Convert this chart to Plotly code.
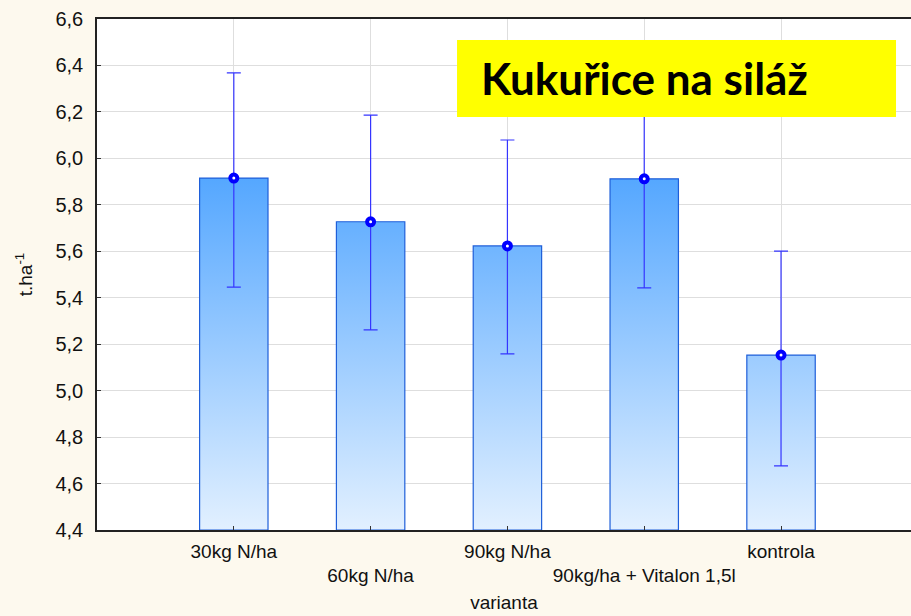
import plotly.graph_objects as go

# Yield of silage maize by fertilisation variant (mean with interval)
categories = ["30kg N/ha", "60kg N/ha", "90kg N/ha", "90kg/ha + Vitalon 1,5l", "kontrola"]
means = [5.915, 5.727, 5.623, 5.912, 5.153]
upper = [6.368, 6.186, 6.079, 6.370, 5.601]
lower = [5.446, 5.262, 5.158, 5.442, 4.676]
y_ticks = [4.4, 4.6, 4.8, 5.0, 5.2, 5.4, 5.6, 5.8, 6.0, 6.2, 6.4, 6.6]

BASE = 4.4
HALF_W = 0.25
positions = list(range(1, len(categories) + 1))

# staggered category labels: every second one on a lower line
tick_text = [c if i % 2 == 0 else "<br>" + c for i, c in enumerate(categories)]

# bar outlines as closed polygons so they can carry a vertical gradient
bx, by = [], []
for p, v in zip(positions, means):
    bx += [p - HALF_W, p - HALF_W, p + HALF_W, p + HALF_W, p - HALF_W, None]
    by += [BASE, v, v, BASE, BASE, None]

fig = go.Figure()
fig.add_trace(go.Scatter(
    x=bx, y=by, mode="lines", fill="toself",
    line=dict(color="#1f5fd9", width=1.2),
    fillgradient=dict(type="vertical",
                      colorscale=[[0, "#e2f0ff"], [1, "#4da3ff"]],
                      start=BASE, stop=6.0),
    hoverinfo="skip", showlegend=False,
))

fig.add_trace(go.Scatter(
    x=positions, y=means, mode="markers",
    marker=dict(symbol="circle", size=7, color="white",
                line=dict(color="#0000ff", width=4)),
    error_y=dict(type="data", symmetric=False,
                 array=[u - m for u, m in zip(upper, means)],
                 arrayminus=[m - l for m, l in zip(means, lower)],
                 color="#3535ff", thickness=1.2, width=7),
    showlegend=False,
))

font = dict(family="Liberation Sans, Arial, sans-serif", color="#111111")

fig.update_layout(
    width=911, height=616,
    margin=dict(l=97, r=0, t=19, b=86),
    paper_bgcolor="#fdf9ee",
    plot_bgcolor="white",
    font=font,
    xaxis=dict(
        range=[0, 5.95],
        tickvals=positions, ticktext=tick_text, tickangle=0, automargin=False,
        tickfont=dict(size=19), ticks="inside", ticklen=4, tickcolor="#333",
        ticklabelstandoff=3,
        showgrid=True, gridcolor="#dedede", gridwidth=1,
        showline=True, linecolor="#222", linewidth=1.5, mirror=True,
        zeroline=False,
        title=dict(text="varianta", font=dict(size=19), standoff=10),
    ),
    yaxis=dict(
        range=[4.4, 6.6], automargin=False,
        tickvals=y_ticks,
        ticktext=[f"{t:.1f}".replace(".", ",") for t in y_ticks],
        tickfont=dict(size=20), ticks="inside", ticklen=4, tickcolor="#333",
        ticklabelstandoff=8,
        showgrid=True, gridcolor="#dedede", gridwidth=1,
        showline=True, linecolor="#222", linewidth=1.5,
        zeroline=False,
        title=dict(text="t.ha<sup>-1</sup>", font=dict(size=19), standoff=18),
    ),
    shapes=[dict(type="rect", xref="paper", yref="paper",
                 x0=0.4423, x1=0.9816, y0=0.8082, y1=0.9589,
                 fillcolor="#ffff00", line=dict(width=0), layer="above")],
    annotations=[dict(text="<b>Kukuřice na siláž</b>", xref="paper", yref="paper",
                      x=0.4693, y=0.884, xanchor="left", yanchor="middle",
                      showarrow=False,
                      font=dict(family="Lato, Open Sans, sans-serif", size=44, color="#000"))],
)

fig.write_html("out.html")
